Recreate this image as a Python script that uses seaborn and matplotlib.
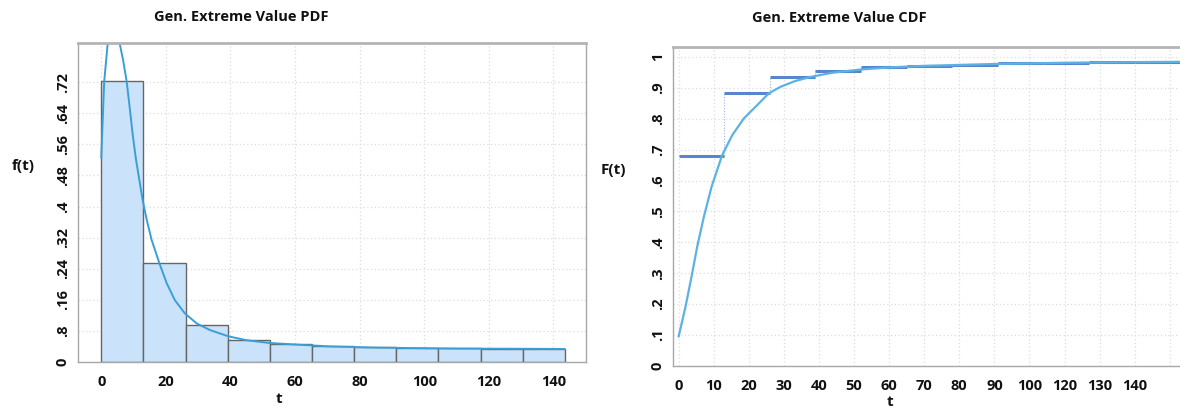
import numpy as np
import pandas as pd
import matplotlib
matplotlib.use("Agg")
import matplotlib.pyplot as plt
from matplotlib.ticker import MultipleLocator
import seaborn as sns

# ---- data -------------------------------------------------------------
BIN_WIDTH = 13.05

# histogram bar heights (one per bin, starting at t = 0)
pdf_bar_heights = [0.722, 0.254, 0.094, 0.056, 0.047, 0.040,
                   0.039, 0.036, 0.035, 0.0345, 0.0335]

# fitted density curve
pdf_curve_t = [0, 0.9, 2.0, 3.0, 3.9, 4.8, 5.7, 6.8, 7.9, 8.8, 9.75,
               10.77, 11.8, 12.8, 14.1, 15.6, 18.0, 20.3, 22.8, 25.9,
               29.6, 33.7, 39.4, 45, 52, 60, 71, 85, 110, 130, 143.5]
pdf_curve_f = [0.525, 0.72, 0.82, 0.88, 0.90, 0.88, 0.82, 0.775, 0.72,
               0.655, 0.584, 0.520, 0.468, 0.417, 0.365, 0.314, 0.254,
               0.202, 0.159, 0.125, 0.099, 0.082, 0.066, 0.056, 0.049,
               0.045, 0.040, 0.037, 0.0345, 0.034, 0.0335]

# empirical cumulative steps (one per bin)
cdf_steps = [0.680, 0.882, 0.935, 0.955, 0.966, 0.971,
             0.975, 0.979, 0.981, 0.983, 0.984]

# fitted cumulative curve
cdf_curve_t = [0, 1.97, 3.68, 5.3, 7.2, 9.4, 12.4, 15.3, 18.6, 22.4,
               25.7, 29.0, 33, 37.5, 44, 51.7, 60, 70, 80, 90, 100,
               110, 120, 130, 143]
cdf_curve_F = [0.095, 0.192, 0.289, 0.386, 0.483, 0.580, 0.682, 0.747,
               0.801, 0.844, 0.882, 0.903, 0.921, 0.935, 0.949, 0.959,
               0.966, 0.971, 0.974, 0.977, 0.979, 0.981, 0.982, 0.983,
               0.984]

pdf_ytick_values = [0, 0.08, 0.16, 0.24, 0.32, 0.40, 0.48, 0.56, 0.64, 0.72]
pdf_ytick_labels = ["0", ".8", ".16", ".24", ".32", ".4", ".48", ".56", ".64", ".72"]
pdf_xtick_values = [0, 20, 40, 60, 80, 100, 120, 140]

cdf_ytick_values = [0, 0.1, 0.2, 0.3, 0.4, 0.5, 0.6, 0.7, 0.8, 0.9, 1.0]
cdf_ytick_labels = ["0", ".1", ".2", ".3", ".4", ".5", ".6", ".7", ".8", ".9", "1"]
cdf_xtick_values = [0, 10, 20, 30, 40, 50, 60, 70, 80, 90, 100, 110, 120, 130, 140]
cdf_xtick_labels = ["0", "10", "20", "30", "40", "50", "60", "70", "80", "90",
                    "100", "120", "130", "140", ""]

# ---- styling ----------------------------------------------------------
sns.set_style("white")
plt.rcParams["font.family"] = ["Open Sans", "DejaVu Sans"]

BAR_FILL = "#cae3fb"
BAR_EDGE = "#666666"
PDF_LINE = "#3a9fd6"
STEP_LINE = "#5b84cf"
CDF_LINE = "#5cb2e2"
FRAME = "#a8a8a8"
GRID = "#dcdcdc"

W, H = 1180, 408
fig = plt.figure(figsize=(W / 100, H / 100), dpi=100)


def px_axes(left, top, right, bottom):
    return fig.add_axes([left / W, 1 - bottom / H, (right - left) / W, (bottom - top) / H])


def style_frame(ax, show_right=True, xpad=6):
    for side in ("left", "bottom", "right", "top"):
        ax.spines[side].set_color(FRAME)
        ax.spines[side].set_linewidth(1.0)
    ax.spines["top"].set_linewidth(2.0)
    ax.spines["top"].set_color("#b4b4b4")
    ax.spines["right"].set_visible(show_right)
    ax.grid(True, which="major", color=GRID, linestyle=(0, (1, 2)), linewidth=0.9)
    ax.set_axisbelow(True)
    ax.tick_params(axis="both", which="major", length=3, width=0.8, color="#888888",
                   labelsize=10.5, labelcolor="#111111", direction="out")
    ax.tick_params(axis="x", which="major", pad=xpad)
    ax.tick_params(axis="y", which="major", pad=3)
    ax.tick_params(axis="both", which="minor", length=2, width=0.6, color="#999999",
                   direction="out")
    for lab in ax.get_xticklabels() + ax.get_yticklabels():
        lab.set_fontweight("bold")


# ---- PDF panel --------------------------------------------------------
ax1 = px_axes(78, 43, 586, 362)
edges = np.arange(len(pdf_bar_heights) + 1) * BIN_WIDTH
bars = pd.DataFrame({"t": edges[:-1] + BIN_WIDTH / 2, "height": pdf_bar_heights})
sns.barplot(data=bars, x="t", y="height", native_scale=True, width=1.0, ax=ax1,
            color=BAR_FILL, saturation=1, edgecolor=BAR_EDGE, linewidth=1.0,
            errorbar=None)
sns.lineplot(x=pdf_curve_t, y=pdf_curve_f, ax=ax1, color=PDF_LINE,
             linewidth=1.4, sort=False, estimator=None)
ax1.set_xlim(-7.2, 150.1)
ax1.set_ylim(0, 0.8206)
ax1.set_xticks(pdf_xtick_values)
ax1.set_xticklabels([str(v) for v in pdf_xtick_values])
ax1.set_yticks(pdf_ytick_values)
ax1.set_yticklabels(pdf_ytick_labels, rotation=90, va="center")
ax1.xaxis.set_minor_locator(MultipleLocator(5))
ax1.yaxis.set_minor_locator(MultipleLocator(0.02))
ax1.set_xlabel("")
ax1.set_ylabel("")
style_frame(ax1, xpad=6)

# ---- CDF panel --------------------------------------------------------
ax2 = px_axes(673, 47, 1180, 366)
cdf_edges = np.arange(len(cdf_steps) + 1) * 13.0
ax2.vlines(cdf_edges[1:-1], cdf_steps[:-1], cdf_steps[1:], color="#9fb4e0",
           linewidth=0.8, linestyle=(0, (1, 1.5)))
ax2.hlines(cdf_steps, cdf_edges[:-1], cdf_edges[1:], color=STEP_LINE, linewidth=2.2)
sns.lineplot(x=cdf_curve_t, y=cdf_curve_F, ax=ax2, color=CDF_LINE,
             linewidth=1.6, sort=False, estimator=None)
ax2.set_xlim(-1.6, 142.9)
ax2.set_ylim(0, 1.032)
ax2.set_xticks(cdf_xtick_values)
ax2.set_xticklabels(cdf_xtick_labels)
ax2.set_yticks(cdf_ytick_values)
ax2.set_yticklabels(cdf_ytick_labels, rotation=90, va="center")
ax2.xaxis.set_minor_locator(MultipleLocator(2))
ax2.yaxis.set_minor_locator(MultipleLocator(0.025))
ax2.set_xlabel("")
ax2.set_ylabel("")
style_frame(ax2, show_right=False, xpad=6)

# ---- titles and axis labels --------------------------------------------
txt = dict(fontweight="bold", color="#111111", ha="center", va="center")
fig.text(241 / W, 1 - 17 / H, "Gen. Extreme Value PDF", fontsize=10.5, **txt)
fig.text(839 / W, 1 - 18 / H, "Gen. Extreme Value CDF", fontsize=10.5, **txt)
fig.text(23 / W, 1 - 166 / H, "f(t)", fontsize=11, **txt)
fig.text(613 / W, 1 - 170 / H, "F(t)", fontsize=11, **txt)
fig.text(279 / W, 1 - 399 / H, "t", fontsize=11, **txt)
fig.text(890 / W, 1 - 402 / H, "t", fontsize=11, **txt)

fig.savefig("out.png", dpi=100, facecolor="white")
